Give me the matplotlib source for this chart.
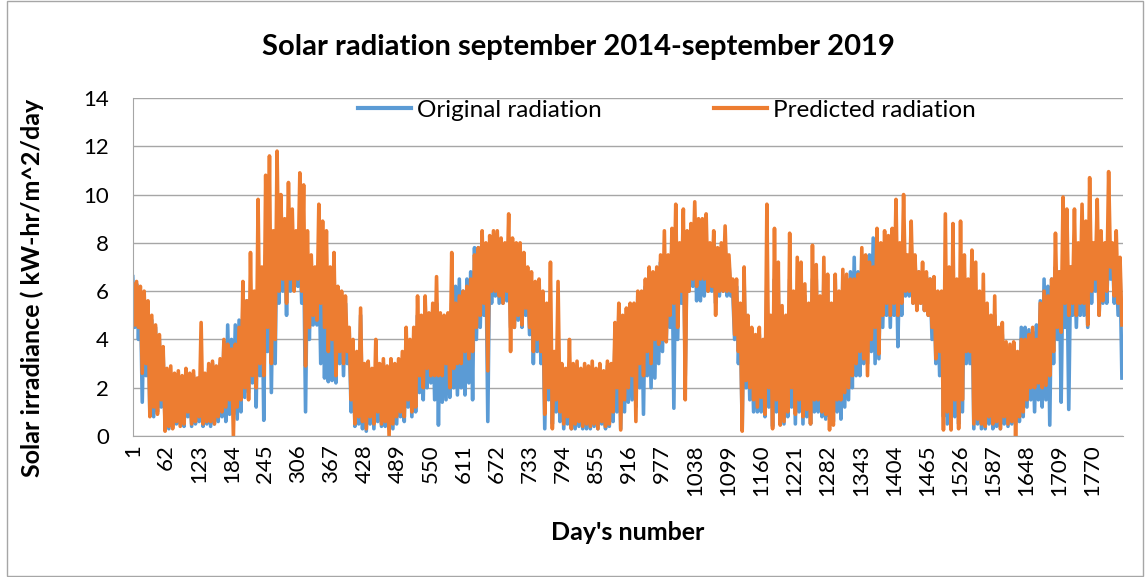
import numpy as np
import matplotlib
matplotlib.use("Agg")
import matplotlib.pyplot as plt
from matplotlib.patches import Rectangle

# ---- data ----
# For each week (day 1, 8, 15, ...): the weekly high (at the start of the week)
# and the weekly low (half a week later), for both series.
pred_high = [
    6.3, 6.4, 6.2, 6.0, 5.6, 5.0, 4.6, 4.2, 3.7, 2.8,
    2.9, 2.6, 2.7, 2.5, 2.8, 2.6, 2.7, 2.4, 4.7, 2.6,
    3.0, 3.1, 2.9, 3.2, 4.0, 3.8, 3.6, 3.8, 4.5, 6.4,
    5.6, 7.6, 6.0, 9.8, 7.0, 10.8, 11.6, 8.5, 11.8, 10.0,
    9.0, 10.5, 9.4, 8.5, 10.9, 10.4, 8.5, 7.5, 7.0, 9.6,
    8.9, 8.5, 7.0, 7.6, 6.2, 6.0, 5.8, 4.5, 4.0, 3.5,
    5.3, 3.0, 3.1, 2.8, 4.0, 3.0, 3.2, 2.9, 3.2, 3.0,
    3.2, 3.5, 4.5, 4.0, 4.5, 5.8, 5.0, 5.8, 5.1, 5.5,
    6.6, 5.1, 5.0, 5.1, 7.6, 5.5, 5.8, 6.0, 6.2, 6.5,
    7.5, 7.8, 8.5, 8.0, 8.3, 8.5, 8.5, 8.2, 8.0, 9.2,
    8.2, 8.0, 8.0, 7.6, 7.0, 6.8, 6.4, 6.5, 6.0, 5.5,
    7.2, 3.5, 6.4, 3.0, 2.8, 4.0, 3.0, 3.1, 2.8, 3.0,
    2.9, 3.1, 2.8, 3.0, 2.7, 3.1, 3.0, 4.7, 5.5, 5.0,
    5.3, 5.5, 5.5, 6.0, 6.0, 6.5, 7.0, 6.8, 7.0, 7.5,
    8.5, 7.5, 8.6, 9.6, 8.0, 9.4, 8.5, 8.8, 9.7, 9.0,
    9.0, 9.2, 8.0, 8.5, 7.8, 8.0, 8.7, 7.5, 6.5, 6.5,
    5.5, 7.0, 5.0, 4.5, 4.2, 4.5, 4.0, 9.6, 5.0, 8.6,
    7.2, 5.4, 5.0, 8.4, 6.0, 7.4, 7.2, 6.3, 5.5, 7.9,
    7.1, 5.8, 7.4, 6.7, 5.5, 6.7, 6.0, 6.9, 6.7, 6.5,
    6.5, 6.7, 7.8, 7.5, 7.2, 7.0, 8.6, 8.0, 8.5, 8.3,
    8.6, 9.8, 8.0, 10.0, 7.5, 8.9, 7.5, 6.8, 7.2, 6.8,
    6.5, 6.6, 6.0, 6.0, 9.2, 7.0, 8.8, 6.5, 8.9, 7.5,
    6.5, 7.7, 7.2, 6.0, 6.7, 5.5, 5.0, 5.8, 4.5, 4.7,
    3.9, 3.8, 3.9, 3.5, 4.0, 4.0, 4.2, 4.5, 4.0, 5.5,
    6.0, 5.8, 6.5, 8.4, 6.8, 9.9, 9.4, 7.0, 9.4, 8.0,
    9.6, 8.9, 10.7, 8.0, 9.8, 8.5, 8.0, 10.95, 8.0, 8.5,
    7.4,
]
pred_low = [
    4.6, 4.5, 2.6, 3.0, 0.8, 1.2, 0.9, 1.5, 0.2, 0.4,
    0.3, 0.6, 0.4, 0.5, 1.0, 0.5, 0.6, 0.8, 0.5, 0.6,
    0.6, 0.5, 0.8, 1.0, 1.2, 1.5, 0.0, 1.2, 1.5, 2.0,
    1.5, 2.5, 2.0, 3.0, 2.5, 4.5, 3.0, 4.0, 6.0, 6.5,
    5.5, 6.5, 6.0, 6.5, 6.0, 2.9, 4.5, 5.0, 4.8, 5.5,
    4.5, 3.5, 4.0, 2.5, 3.5, 3.0, 3.5, 1.5, 0.5, 0.8,
    0.6, 0.3, 0.8, 0.5, 1.0, 0.5, 0.6, 0.0, 0.5, 0.8,
    1.0, 0.8, 1.5, 1.0, 1.2, 2.5, 2.0, 2.8, 2.5, 2.5,
    2.5, 2.5, 3.0, 2.0, 2.8, 3.0, 3.0, 3.5, 3.2, 3.5,
    4.5, 5.0, 5.5, 2.7, 6.0, 6.0, 5.8, 5.5, 6.0, 3.5,
    4.5, 5.0, 4.6, 5.3, 4.5, 3.5, 4.0, 3.5, 0.9, 2.0,
    0.3, 1.5, 1.0, 0.5, 0.8, 0.3, 0.5, 0.6, 0.4, 0.5,
    0.4, 0.5, 0.3, 0.6, 0.4, 0.5, 1.0, 2.0, 0.25, 1.5,
    2.0, 2.5, 0.6, 3.0, 2.5, 3.5, 3.0, 4.0, 3.8, 4.0,
    3.9, 5.0, 5.5, 4.5, 6.0, 1.5, 6.0, 6.5, 6.2, 6.5,
    6.5, 6.0, 6.2, 5.0, 6.0, 6.0, 6.0, 6.0, 4.2, 3.5,
    0.2, 2.3, 2.0, 1.5, 1.2, 1.6, 0.9, 2.0, 0.3, 1.5,
    0.45, 0.6, 1.0, 2.0, 0.9, 1.5, 0.8, 1.1, 0.5, 1.5,
    1.5, 1.0, 0.9, 0.25, 0.45, 1.5, 1.5, 1.8, 2.0, 2.5,
    3.0, 3.5, 3.2, 2.5, 4.0, 4.5, 3.4, 5.0, 5.5, 5.0,
    5.5, 5.0, 5.5, 6.0, 6.0, 5.5, 5.2, 5.5, 5.2, 5.0,
    4.5, 3.2, 3.5, 0.25, 1.0, 0.25, 1.5, 0.3, 1.5, 3.5,
    3.5, 0.5, 0.7, 0.5, 0.4, 0.8, 0.5, 0.6, 0.3, 0.8,
    0.5, 0.6, 0.0, 0.8, 1.0, 1.5, 2.0, 2.0, 2.2, 2.0,
    2.1, 2.5, 3.5, 4.5, 4.3, 5.5, 5.0, 5.5, 5.0, 5.5,
    5.5, 4.6, 6.0, 6.5, 5.0, 5.6, 6.0, 7.0, 5.8, 5.5,
    4.6,
]
orig_high = [
    6.6, 6.3, 6.0, 5.8, 5.0, 4.8, 4.5, 4.0, 3.4, 2.6,
    2.6, 2.4, 2.5, 2.3, 2.6, 2.4, 2.5, 2.3, 2.7, 2.4,
    2.8, 3.0, 2.8, 3.0, 3.9, 4.6, 4.0, 4.6, 4.8, 5.5,
    5.6, 5.6, 5.0, 7.0, 6.5, 7.5, 8.0, 7.5, 9.0, 8.5,
    8.0, 8.5, 7.5, 7.5, 8.0, 7.8, 7.5, 7.0, 6.8, 7.5,
    7.6, 7.0, 6.5, 7.0, 5.8, 5.8, 5.5, 4.3, 3.8, 3.3,
    5.0, 2.8, 3.0, 2.6, 2.8, 2.8, 3.0, 2.7, 3.0, 2.8,
    3.0, 3.2, 4.2, 3.8, 4.0, 5.0, 4.6, 5.5, 4.8, 5.2,
    5.5, 5.0, 4.8, 5.0, 5.5, 6.2, 6.5, 6.0, 6.5, 6.8,
    7.8, 7.8, 7.5, 7.6, 7.6, 8.0, 8.0, 7.8, 7.5, 8.0,
    7.8, 7.6, 7.5, 7.2, 6.6, 6.4, 6.0, 6.0, 5.5, 5.0,
    4.0, 3.2, 3.5, 2.8, 2.6, 3.0, 2.8, 2.8, 2.6, 2.8,
    2.7, 2.8, 2.6, 2.8, 2.5, 2.9, 2.8, 4.0, 5.0, 4.8,
    5.0, 5.2, 5.3, 5.8, 5.8, 6.2, 6.5, 6.5, 6.8, 7.2,
    7.5, 7.2, 8.0, 8.2, 7.8, 8.2, 8.0, 8.2, 8.6, 8.3,
    8.2, 8.2, 7.8, 8.0, 7.5, 7.6, 8.0, 7.2, 6.0, 6.2,
    5.0, 6.5, 4.6, 4.2, 4.0, 4.2, 3.8, 6.5, 4.5, 6.5,
    6.0, 5.0, 4.6, 6.5, 5.5, 6.0, 6.0, 5.8, 5.0, 6.5,
    6.5, 5.5, 6.5, 6.0, 5.2, 6.5, 5.8, 6.5, 6.5, 6.8,
    7.4, 6.8, 7.5, 7.2, 7.5, 8.2, 8.0, 7.8, 8.0, 8.0,
    8.0, 8.5, 7.8, 8.3, 7.2, 8.0, 7.2, 6.8, 6.8, 6.6,
    6.5, 6.4, 5.8, 5.6, 6.5, 6.0, 6.5, 5.5, 6.5, 6.5,
    6.0, 6.2, 6.0, 5.5, 5.5, 5.0, 4.5, 5.0, 4.0, 4.2,
    3.5, 3.6, 3.6, 3.4, 4.5, 4.5, 4.4, 4.3, 4.6, 5.6,
    6.5, 6.2, 6.5, 7.0, 6.8, 7.5, 7.5, 7.0, 7.5, 7.5,
    8.0, 7.8, 8.0, 7.5, 8.0, 7.5, 7.5, 8.0, 7.5, 7.2,
    7.0,
]
orig_low = [
    4.5, 4.0, 1.4, 2.5, 1.0, 0.8, 1.0, 1.2, 0.5, 0.3,
    0.4, 0.5, 0.5, 0.4, 0.8, 0.4, 0.5, 0.6, 0.4, 0.5,
    0.4, 0.5, 0.6, 0.8, 0.6, 0.9, 0.9, 0.7, 1.0, 1.6,
    1.8, 2.2, 1.2, 2.5, 0.65, 3.5, 1.8, 3.0, 5.5, 6.0,
    5.0, 6.0, 6.6, 6.2, 5.5, 1.0, 4.0, 4.6, 4.6, 3.0,
    2.4, 2.25, 2.3, 2.2, 3.0, 2.5, 3.0, 1.0, 0.4, 0.5,
    0.3, 0.2, 0.5, 0.3, 0.6, 0.4, 0.4, 0.3, 0.3, 0.5,
    0.8, 0.6, 1.2, 0.8, 1.0, 1.8, 1.5, 2.0, 2.2, 1.5,
    0.45, 1.4, 1.5, 1.6, 2.0, 1.7, 2.0, 1.7, 2.2, 1.5,
    4.0, 4.5, 5.0, 0.6, 5.5, 5.8, 5.5, 5.5, 5.6, 4.5,
    4.5, 4.8, 4.5, 5.0, 4.2, 3.0, 3.5, 3.0, 0.3, 1.5,
    0.5, 1.0, 0.6, 0.3, 0.5, 0.3, 0.3, 0.4, 0.3, 0.3,
    0.3, 0.4, 0.3, 0.5, 0.3, 0.4, 0.6, 1.0, 0.3, 1.0,
    1.4, 1.5, 1.2, 2.0, 0.9, 2.5, 2.0, 2.4, 3.0, 3.5,
    4.0, 4.5, 1.15, 4.0, 5.5, 2.5, 6.0, 6.2, 5.6, 5.6,
    5.8, 6.0, 6.0, 5.5, 5.8, 6.0, 5.8, 5.8, 4.0, 3.0,
    0.3, 2.0, 1.5, 1.0, 1.0, 1.0, 0.8, 1.2, 0.4, 1.0,
    0.6, 0.5, 0.8, 1.2, 0.5, 1.0, 0.5, 0.8, 0.5, 1.0,
    1.0, 0.8, 0.7, 0.8, 0.6, 1.0, 0.7, 1.2, 1.5, 2.0,
    2.5, 2.5, 3.0, 3.0, 3.5, 3.0, 3.2, 4.5, 5.0, 4.5,
    5.0, 3.7, 5.0, 5.8, 5.8, 5.5, 5.5, 5.5, 5.2, 5.0,
    4.0, 3.0, 2.5, 0.8, 0.5, 0.5, 0.8, 0.5, 1.0, 3.0,
    3.0, 0.3, 0.5, 0.3, 0.3, 0.5, 0.3, 0.4, 0.3, 0.5,
    0.4, 0.5, 0.5, 0.6, 0.8, 1.2, 1.5, 1.0, 1.5, 1.2,
    1.5, 0.45, 3.0, 4.0, 1.4, 4.5, 1.1, 5.0, 4.5, 5.0,
    5.0, 4.5, 5.5, 6.0, 5.0, 5.5, 5.5, 6.5, 5.5, 5.0,
    2.4,
]
n_days = 1826
tick_days = list(range(1, 1771, 61))

title = "Solar radiation september 2014-september 2019"
ylabel = "Solar irradiance ( kW-hr/m^2/day"
xlabel = "Day's number"
labels = ["Original radiation", "Predicted radiation"]

# interleave weekly high / low -> one value every half week
predicted = np.column_stack([pred_high, pred_low]).ravel()
original = np.column_stack([orig_high, orig_low]).ravel()
days = 1 + 3.5 * np.arange(len(predicted))

FONT = "Lato"
blue = "#5B9BD5"
orange = "#ED7D31"

fig = plt.figure(figsize=(11.45, 5.77), dpi=100)
fig.patches.append(Rectangle((0.006, 0.002), 0.992, 0.996, transform=fig.transFigure,
                             fill=False, edgecolor="#a6a6a6", linewidth=1.0))
ax = fig.add_axes([132.5 / 1145, 1 - 436 / 577, (1123 - 132.5) / 1145, (436 - 98) / 577])

l1, = ax.plot(days, original, color=blue, lw=2.6, solid_joinstyle="round", label=labels[0])
l2, = ax.plot(days, predicted, color=orange, lw=2.6, solid_joinstyle="round", label=labels[1])

ax.set_xlim(0.5, n_days + 0.5)
ax.set_ylim(0, 14)
ax.set_yticks(range(0, 15, 2))
ax.set_xticks(tick_days)
ax.set_xticklabels([str(d) for d in tick_days], rotation=90, fontsize=16, family=FONT)
for t in ax.get_yticklabels():
    t.set_family(FONT)
    t.set_fontsize(16)
ax.grid(axis="y", color="#a6a6a6", lw=1.0)
ax.set_axisbelow(True)
for s in ["top", "right"]:
    ax.spines[s].set_visible(False)
for s in ["left", "bottom"]:
    ax.spines[s].set_color("#a6a6a6")
ax.tick_params(axis="y", length=0, pad=17, colors="black")
ax.tick_params(axis="x", length=0, pad=6, colors="black")

fig.text(628 / 1145, 1 - 533 / 577, xlabel, ha="center", va="center",
         fontsize=18, fontweight="bold", family=FONT)
fig.text(32 / 1145, 1 - 288 / 577, ylabel, ha="center", va="center", rotation=90,
         fontsize=18, fontweight="bold", family=FONT)
fig.text(578 / 1145, 1 - 47 / 577, title, ha="center", va="center",
         fontsize=21, fontweight="bold", family=FONT)

leg = fig.legend(handles=[l1, l2], loc="center", bbox_to_anchor=(667 / 1145, 1 - 110 / 577), ncol=2,
                 frameon=False, prop={"family": FONT, "size": 17.5}, handlelength=2.2,
                 columnspacing=4.6, handletextpad=0.25, borderaxespad=0, borderpad=0)
for h in leg.get_lines():
    h.set_linewidth(3.0)

fig.savefig("out.png", dpi=100)
